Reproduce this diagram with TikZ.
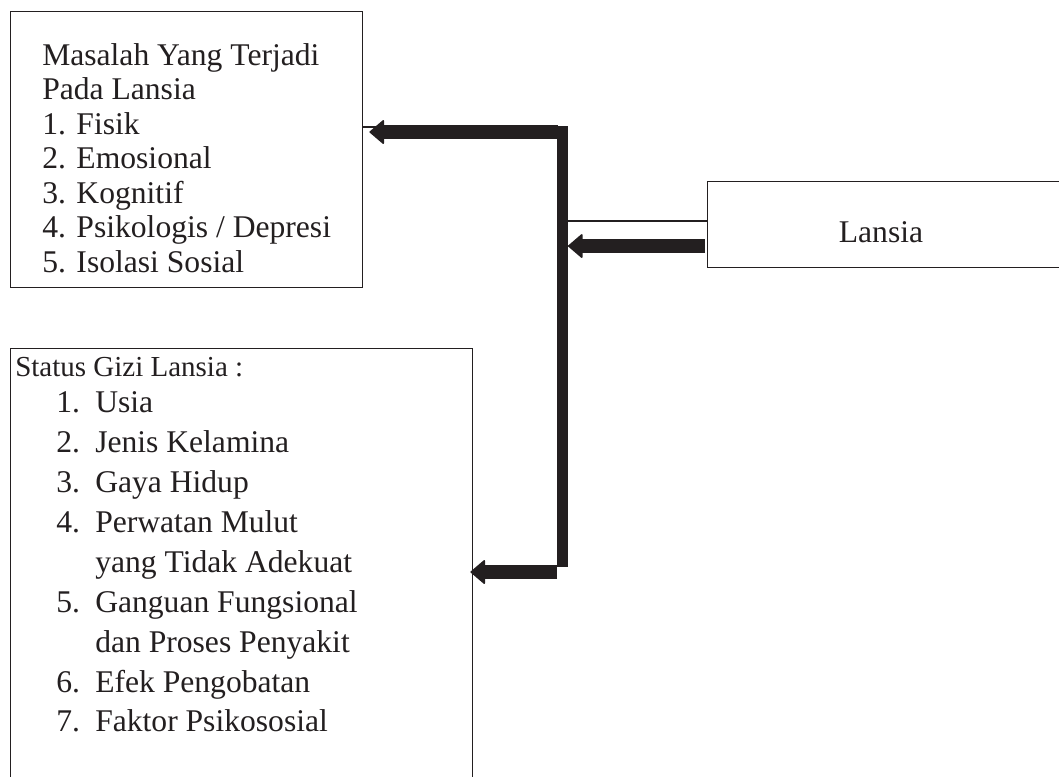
\documentclass[tikz,border=0pt]{standalone}
\usepackage{fontspec}
\setmainfont{Liberation Serif}
\usetikzlibrary{arrows.meta,calc}
\definecolor{ink}{RGB}{35,31,32}
\newcommand\mainsz{\fontsize{23.7pt}{28pt}\selectfont}
\newcommand\stsz{\fontsize{21.75pt}{26pt}\selectfont}
\begin{document}
\begin{tikzpicture}[x=0.75pt,y=-0.75pt,
  box/.style={draw=ink, line width=1.1pt, inner sep=0pt, anchor=north west},
  txt/.style={inner sep=0pt, anchor=base west, font=\mainsz, text=ink},
  sttxt/.style={inner sep=0pt, anchor=base west, font=\stsz, text=ink},
  rule/.style={draw=ink, line width=1.1pt},
  bar/.style={draw=ink, line width=8.25pt},
  fatarrow/.style={draw=ink, line width=10.5pt, -{Triangle[length=11.25pt, width=19pt, line width=1.2pt, round]}}]
\useasboundingbox (0,0) rectangle (1059,776);
\clip (0,0) rectangle (1059,776);
\fill[white] (0,0) rectangle (1059,776);

% boxes
\node[box, minimum width=264pt, minimum height=207pt] (box1) at (10,11) {};
\node[box, minimum width=346.5pt, minimum height=331.5pt] (box2) at (10,348) {};
\node[box, minimum width=272.25pt, minimum height=64.5pt] (lansia) at (707,181) {};

% box 1 text
\node[txt] (m0) at (42,65) {Masalah Yang Terjadi};
\node[txt] (m1) at (42,99.5) {Pada Lansia};
\node[txt] (m2) at (42,134) {1. Fisik};
\node[txt] (m3) at (42,168.5) {2. Emosional};
\node[txt] (m4) at (42,203) {3. Kognitif};
\node[txt] (m5) at (42,237.5) {4. Psikologis / Depresi};
\node[txt] (m6) at (42,272) {5. Isolasi Sosial};

% box 2 text
\node[sttxt] (s0) at (15,376) {Status Gizi Lansia :};
\node[txt] (n1) at (56,412) {1.};
\node[txt] (t1) at (95,412) {Usia};
\node[txt] (n2) at (56,452) {2.};
\node[txt] (t2) at (95,452) {Jenis Kelamina};
\node[txt] (n3) at (56,492) {3.};
\node[txt] (t3) at (95,492) {Gaya Hidup};
\node[txt] (n4) at (56,532) {4.};
\node[txt] (t4) at (95,532) {Perwatan Mulut};
\node[txt] (t4b) at (95,572) {yang Tidak Adekuat};
\node[txt] (n5) at (56,612) {5.};
\node[txt] (t5) at (95,612) {Ganguan Fungsional};
\node[txt] (t5b) at (95,652) {dan Proses Penyakit};
\node[txt] (n6) at (56,692) {6.};
\node[txt] (t6) at (95,692) {Efek Pengobatan};
\node[txt] (n7) at (56,731) {7.};
\node[txt] (t7) at (95,731) {Faktor Psikososial};

% Lansia text
\node[inner sep=0pt, anchor=base, font=\mainsz, text=ink] (lt) at (881,242) {Lansia};

% connector points
\coordinate (bt) at (562.5,126);
\coordinate (bb) at (562.5,567);
\coordinate (j1) at (562.5,127);
\coordinate (j2) at (562.5,221);
\coordinate (a1s) at (558,132);
\coordinate (a2s) at (705,246);
\coordinate (a3s) at (557,572);

% thin lines
\draw[rule] (j1 -| box1.east) -- (j1);
\draw[rule] (j2) -- (j2 -| lansia.west);

% thick bar and arrows
\draw[bar] (bt) -- (bb);
\draw[fatarrow, shorten >=4.5pt] (a1s) -- (a1s -| box1.east);
\draw[fatarrow, shorten >=4.125pt] (a2s) -- (a2s -| bt);
\draw[fatarrow, shorten >=-2.25pt] (a3s) -- (a3s -| box2.east);
\end{tikzpicture}
\end{document}
